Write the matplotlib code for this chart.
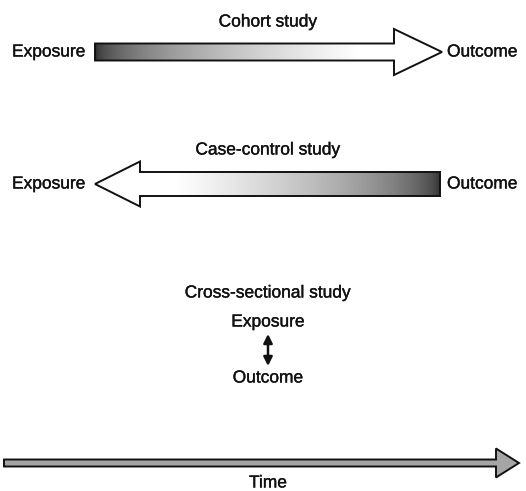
import numpy as np
from matplotlib import pyplot as plt, patheffects
from matplotlib.patches import Polygon

plt.rcParams.update({"font.family": ["Liberation Sans", "DejaVu Sans"],
                     "font.size": 12.5,
                     "text.color": "#111111"})

# diagram texts
study_titles = ["Cohort study", "Case-control study", "Cross-sectional study"]
end_labels = ["Exposure", "Outcome"]
axis_label = "Time"

# slightly heavier strokes, like the scanned print
heavy = [patheffects.withStroke(linewidth=0.25, foreground='#111111')]


def arrow_poly(x0, x1, yc, body_h, head_x, head_h, right=True):
    # block arrow outline, pixel coords
    b = body_h / 2
    h = head_h / 2
    if right:
        return [(x0, yc - b), (head_x, yc - b), (head_x, yc - h), (x1, yc),
                (head_x, yc + h), (head_x, yc + b), (x0, yc + b)]
    return [(x1, yc - b), (head_x, yc - b), (head_x, yc - h), (x0, yc),
            (head_x, yc + h), (head_x, yc + b), (x1, yc + b)]


def shaded_arrow(ax, pts, x_dark, x_light, dark=0.15):
    poly = Polygon(pts, closed=True, facecolor='none', edgecolor='#111111', lw=1.4, zorder=3)
    ax.add_patch(poly)
    xs = np.arange(0, 526)
    t = np.clip((xs - x_dark) / (x_light - x_dark), 0, 1)
    g = dark + (1 - dark) * t ** 0.5
    img = np.tile(g, (2, 1))
    im = ax.imshow(img, cmap='gray', vmin=0, vmax=1, extent=(0, 526, 491, 0),
                   aspect='auto', interpolation='bilinear', zorder=2)
    im.set_clip_path(poly)


def label(x, y, s, ha='center'):
    ax.text(x, y, s, ha=ha, va='center', path_effects=heavy)


fig = plt.figure(figsize=(5.26, 4.91), dpi=100)
ax = fig.add_axes([0, 0, 1, 1])
ax.set_xlim(0, 526)
ax.set_ylim(491, 0)
ax.axis('off')

# cohort study
shaded_arrow(ax, arrow_poly(95, 442, 52, 17, 394, 46, right=True), 95, 360)
label(268, 22, study_titles[0])
label(12, 52, end_labels[0], ha='left')
label(447, 52, end_labels[1], ha='left')

# case-control study
shaded_arrow(ax, arrow_poly(95, 440, 184, 24, 140, 45, right=False), 440, 175)
label(268, 150, study_titles[1])
label(12, 184, end_labels[0], ha='left')
label(447, 184, end_labels[1], ha='left')

# cross-sectional study
label(268, 293, study_titles[2])
label(268, 322, end_labels[0])
label(268, 378, end_labels[1])
ax.annotate('', xy=(268, 334), xytext=(268, 366),
            arrowprops=dict(arrowstyle='<|-|>', color='#111111', lw=1.8,
                            mutation_scale=13, shrinkA=0, shrinkB=0))

# time axis
t_poly = Polygon(arrow_poly(4, 519, 463, 7, 496, 29, right=True), closed=True,
                 facecolor='#a5a5a5', edgecolor='#111111', lw=1.4, zorder=3)
ax.add_patch(t_poly)
label(268, 483, axis_label)

fig.savefig('out.png', dpi=100)
